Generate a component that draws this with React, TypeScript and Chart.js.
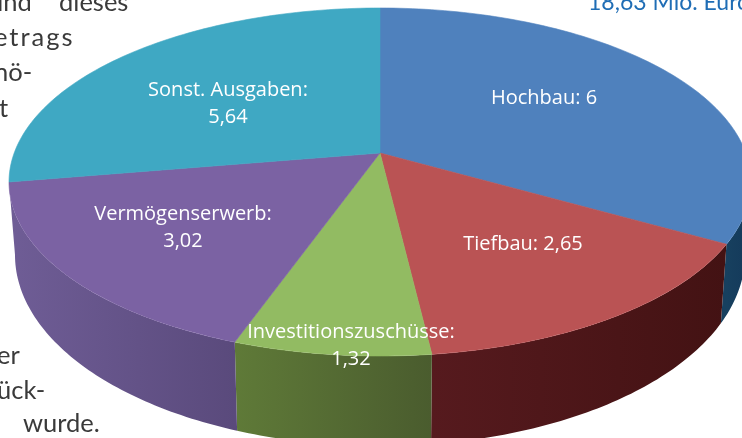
import React, { useEffect, useRef } from "react";
import { Chart, PieController, ArcElement, defaults } from "chart.js";

const categories = ["Hochbau", "Tiefbau", "Investitionszuschüsse", "Vermögenserwerb", "Sonst. Ausgaben"];
const values = [6, 2.65, 1.32, 3.02, 5.64];
const valueLabels = ["6", "2,65", "1,32", "3,02", "5,64"];
const faceColors = ["#4f81bd", "#ba5354", "#92bb62", "#7b62a3", "#3fa8c3"];
const wallColors = [
  ["#17405f", "#14395a"],
  ["#561a1e", "#431213"],
  ["#5f7a38", "#4a5c2e"],
  ["#6f5d96", "#5a4a7c"],
  ["#2a7f94", "#2a7f94"],
];

// Perspective calibration: clockwise angle of the data (deg) -> angle on the drawn ellipse (deg)
const perspective: [number, number][] = [
  [0, 0], [115.9, 110.9], [167.1, 171.9], [192.7, 203.1], [251, 270], [360, 360],
];
// Geometry relative to the arc's centre and radius as laid out by Chart.js
const topEllipse = { dx: 9, dy: -37, kx: 371 / 219, ky: 174 / 219 };
const bottomEllipse = { dx: 9, dy: 36, kx: 365 / 219, ky: 191 / 219 };
const apex = { dx: 9, dy: -66 };

const labelSpots: [number, number][] = [[544, 98], [523, 244], [351, 332], [183, 214], [228, 90]];
const sideTexts: { t: string; x: number; y: number; ls?: string }[] = [
  { t: "und", x: -11, y: 11 },
  { t: "dieses", x: 59, y: 11 },
  { t: "etrags", x: -6, y: 46, ls: "2px" },
  { t: "nö-", x: -6, y: 81 },
  { t: "t", x: -1, y: 117 },
  { t: "er", x: -3, y: 364 },
  { t: "ück-", x: -3, y: 399 },
  { t: "wurde.", x: 23, y: 432 },
];

function warp(deg: number) {
  for (let i = 1; i < perspective.length; i++) {
    const [a0, b0] = perspective[i - 1];
    const [a1, b1] = perspective[i];
    if (deg <= a1) return b0 + ((deg - a0) / (a1 - a0)) * (b1 - b0);
  }
  return deg;
}

class Arc3D extends ArcElement {
  static id = "arc3d";
  draw(ctx: CanvasRenderingContext2D) {
    const { x, y, startAngle, endAngle, outerRadius } = (this as any).getProps(["x", "y", "startAngle", "endAngle", "outerRadius"]);
    const o = (this as any).options;
    const i = (this as any).$context.dataIndex;
    const s = warp(((startAngle + Math.PI / 2) * 180) / Math.PI);
    const e = warp(((endAngle + Math.PI / 2) * 180) / Math.PI);
    const pts = (g: typeof topEllipse, from: number, to: number) => {
      const out: [number, number][] = [];
      const n = Math.max(2, Math.ceil(to - from));
      for (let k = 0; k <= n; k++) {
        const a = ((from + ((to - from) * k) / n) * Math.PI) / 180;
        out.push([x + g.dx + outerRadius * g.kx * Math.sin(a), y + g.dy - outerRadius * g.ky * Math.cos(a)]);
      }
      return out;
    };

    // side wall, only on the front half and where it shows outside the top face
    const ws = Math.max(s, 90);
    const we = Math.min(e, 270);
    if (we > ws) {
      const wallRim = pts(topEllipse, ws, we);
      const wallBase = pts(bottomEllipse, ws, we);
      ctx.save();
      const clip = new Path2D();
      clip.rect(0, 0, ctx.canvas.width, ctx.canvas.height);
      clip.ellipse(x + topEllipse.dx, y + topEllipse.dy, outerRadius * topEllipse.kx, outerRadius * topEllipse.ky, 0, 0, Math.PI * 2);
      ctx.clip(clip, "evenodd");
      const xs = wallRim.map((p) => p[0]);
      const grad = ctx.createLinearGradient(Math.min(...xs), 0, Math.max(...xs), 0);
      grad.addColorStop(0, wallColors[i][0]);
      grad.addColorStop(1, wallColors[i][1]);
      ctx.fillStyle = grad;
      ctx.beginPath();
      wallRim.forEach((p, k) => (k ? ctx.lineTo(p[0], p[1]) : ctx.moveTo(p[0], p[1])));
      wallBase.reverse().forEach((p) => ctx.lineTo(p[0], p[1]));
      ctx.closePath();
      ctx.fill();
      ctx.restore();
    }

    // top face
    const rim = pts(topEllipse, s, e);
    ctx.save();
    ctx.fillStyle = o.backgroundColor;
    ctx.strokeStyle = o.backgroundColor;
    ctx.lineWidth = 0.6;
    ctx.beginPath();
    ctx.moveTo(x + apex.dx, y + apex.dy);
    rim.forEach((p) => ctx.lineTo(p[0], p[1]));
    ctx.closePath();
    ctx.fill();
    ctx.stroke();
    ctx.restore();
  }
}

const textPlugin = {
  id: "pieTexts",
  afterDraw(chart: any) {
    const ctx: CanvasRenderingContext2D = chart.ctx;
    ctx.save();
    ctx.textBaseline = "middle";
    ctx.textAlign = "center";
    ctx.fillStyle = "#ffffff";
    ctx.font = '20px "Open Sans"';
    categories.forEach((c, i) => {
      const [lx, ly] = labelSpots[i];
      if (i === 0 || i === 1) {
        ctx.fillText(`${c}: ${valueLabels[i]}`, lx, ly);
      } else {
        ctx.fillText(`${c}:`, lx, ly);
        ctx.fillText(valueLabels[i], lx, ly + 27);
      }
    });
    ctx.textAlign = "left";
    ctx.textBaseline = "alphabetic";
    ctx.fillStyle = "#3a3a3a";
    ctx.font = "25.5px Lato";
    sideTexts.forEach((s) => {
      (ctx as any).letterSpacing = s.ls ?? "0px";
      ctx.fillText(s.t, s.x, s.y);
    });
    (ctx as any).letterSpacing = "0px";
    ctx.fillStyle = "#1f6db5";
    ctx.font = "23px Lato";
    ctx.fillText("18,63 Mio. Euro", 588, 10);
    ctx.restore();
  },
};

export default function App() {
  const ref = useRef<HTMLCanvasElement>(null);
  useEffect(() => {
    Chart.register(PieController, ArcElement, Arc3D as any);
    (defaults.datasets as any).pie.dataElementType = "arc3d";
    const chart = new Chart(ref.current!, {
      type: "pie",
      data: {
        labels: categories,
        datasets: [{ data: values, backgroundColor: faceColors, borderWidth: 0 }],
      },
      options: {
        animation: false,
        responsive: false,
        maintainAspectRatio: false,
        layout: { padding: 0 },
        plugins: { legend: { display: false }, tooltip: { enabled: false } },
      } as any,
      plugins: [textPlugin],
    });
    return () => chart.destroy();
  }, []);
  return (
    <div style={{ position: "fixed", left: 0, top: 0, width: 742, height: 438, background: "#fff", overflow: "hidden" }}>
      <canvas ref={ref} width={742} height={438} style={{ display: "block", filter: "blur(0.4px)" }} />
    </div>
  );
}
